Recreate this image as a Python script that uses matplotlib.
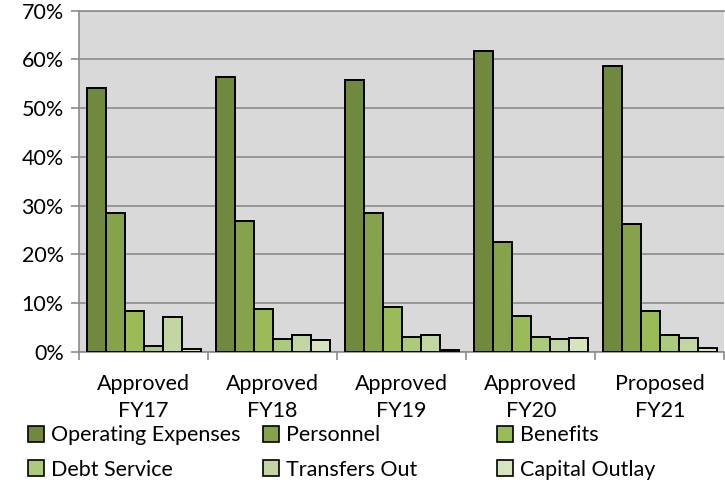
import numpy as np
import matplotlib.pyplot as plt
from matplotlib.patches import Patch
from matplotlib.ticker import PercentFormatter

plt.rcParams['font.family'] = ['Lato', 'DejaVu Sans']

# Share of the budget by category, per fiscal year
years = ["Approved\nFY17", "Approved\nFY18", "Approved\nFY19", "Approved\nFY20", "Proposed\nFY21"]
categories = ["Operating Expenses", "Personnel", "Benefits",
              "Debt Service", "Transfers Out", "Capital Outlay"]
operating = [54.2, 56.3, 55.8, 61.8, 58.6]
personnel = [28.4, 26.9, 28.5, 22.5, 26.3]
benefits = [8.4, 8.8, 9.2, 7.4, 8.3]
debt_service = [1.2, 2.6, 3.0, 2.9, 3.3]
transfers_out = [7.2, 3.3, 3.3, 2.6, 2.8]
capital_outlay = [0.5, 2.3, 0.4, 2.8, 0.7]

series = [operating, personnel, benefits, debt_service, transfers_out, capital_outlay]
colors = ["#71893f", "#86a34c", "#9bbb59", "#adca7a", "#c3d5a3", "#d7e4bd"]

fig = plt.figure(figsize=(7.25, 4.91), dpi=100)
ax = fig.add_axes([0.109, 0.284, 0.890, 0.694])
ax.set_facecolor("#d9d9d9")

x = np.arange(len(years))
n = len(series)
group = 0.884
w = group / n
for i, vals in enumerate(series):
    offs = -group / 2 + w * (i + 0.5)
    ax.bar(x + offs, vals, width=w, color=colors[i], edgecolor="black",
           linewidth=1.4, zorder=3, label=categories[i])

ax.set_ylim(0, 70)
ax.set_xlim(-0.5, len(years) - 0.5)
ax.set_yticks(np.arange(0, 71, 10))
ax.yaxis.set_major_formatter(PercentFormatter(decimals=0))
ax.grid(axis="y", color="#8c8c8c", linewidth=1.2, zorder=1)

ax.set_xticks(x)
ax.set_xticklabels(years, fontsize=15.5, linespacing=1.45)
ax.set_xticks(np.arange(-0.5, len(years)), minor=True)
ax.tick_params(axis="x", which="major", length=0, pad=16)
ax.tick_params(axis="x", which="minor", length=6, color="#8c8c8c", width=1.2)
ax.tick_params(axis="y", length=6, color="#8c8c8c", width=1.2, labelsize=15.5, pad=5)

for side in ["left", "bottom", "top"]:
    ax.spines[side].set_color("#8c8c8c")
    ax.spines[side].set_linewidth(1.2)
ax.spines["right"].set_visible(False)

# legend: three columns, two rows, placed by hand
handles = [Patch(facecolor=c, edgecolor="black", linewidth=1.2) for c in colors]
col_x = [0.039, 0.363, 0.686]
for j in range(3):
    idx = [j, j + 3]
    fig.legend([handles[k] for k in idx], [categories[k] for k in idx],
               loc="upper left", bbox_to_anchor=(col_x[j], 0.134),
               frameon=False, fontsize=15.5, handlelength=0.75, handleheight=0.75,
               handletextpad=0.3, labelspacing=0.68, borderpad=0, borderaxespad=0)

fig.savefig("out.png", dpi=100)
